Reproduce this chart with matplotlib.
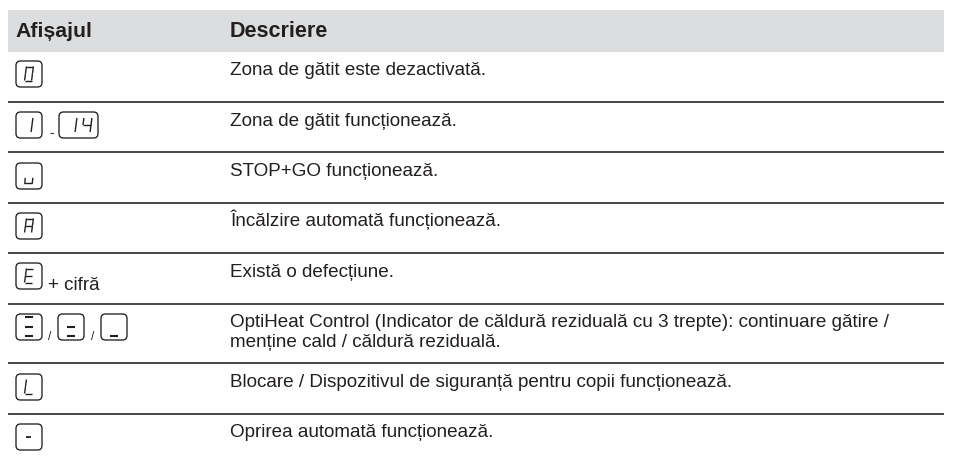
import matplotlib
matplotlib.use("Agg")
import matplotlib.pyplot as plt
from matplotlib.patches import FancyBboxPatch, Rectangle

headers = ["Afișajul", "Descriere"]
descriptions = [
    "Zona de gătit este dezactivată.",
    "Zona de gătit funcționează.",
    "STOP+GO funcționează.",
    "Încălzire automată funcționează.",
    "Există o defecțiune.",
    "OptiHeat Control (Indicator de căldură reziduală cu 3 trepte): continuare gătire /\nmenține cald / căldură reziduală.",
    "Blocare / Dispozitivul de siguranță pentru copii funcționează.",
    "Oprirea automată funcționează.",
]
row_keys = [
    [("0", 16, 26)],
    [("1", 16, 26), ("14", 59, 39)],
    [("u", 16, 26)],
    [("A", 16, 26)],
    [("E", 16, 26)],
    [("hi", 16, 26), ("mid", 58, 26), ("lo", 101, 26)],
    [("L", 16, 26)],
    [("-", 16, 26)],
]
key_tops = [61, 112, 163, 213, 263, 314, 374, 424]
rule_rows = [102, 152, 203, 253, 304, 363, 414]
text_rows = [75, 126, 176, 226, 277, 328, 387, 437]
separators = [(49, 137, "-", 10), (48, 290, "+ cifră", 13.5), (48, 340, "/", 8.5), (91, 340, "/", 8.5)]

SEG = {
    "a": [(0, 0), (1, 0)], "b": [(1, 0), (1, .5)], "c": [(1, .5), (1, 1)],
    "d": [(0, 1), (1, 1)], "e": [(0, .5), (0, 1)], "f": [(0, 0), (0, .5)], "g": [(0, .5), (1, .5)],
}
GLYPH = {"0": "abcdef", "1": "bc", "4": "fgbc", "A": "abcefg", "E": "afged", "L": "fed"}
DARK = "#231f20"
FS = 13.55

fig = plt.figure(figsize=(9.54, 4.59), dpi=100)
ax = fig.add_axes([0, 0, 1, 1])
ax.set_xlim(0, 954)
ax.set_ylim(459, 0)
ax.axis("off")

ax.add_patch(Rectangle((8, 10), 936, 42, fc="#dcddde", ec="none"))
ax.text(15.5, 37, headers[0], fontsize=15.3, fontweight="bold", family="Liberation Sans", va="baseline", color=DARK)
ax.text(230, 37, headers[1], fontsize=15.5, fontweight="bold", family="Liberation Sans", va="baseline", color=DARK)

for y in rule_rows:
    ax.plot([8, 944], [y, y], color="#262626", lw=1.2, solid_capstyle="butt")


def segments(cx, top, segs, w=6.0, h=14.0, lw=1.0, skew=0.13):
    for s in segs:
        (x0, y0), (x1, y1) = SEG[s]
        X = [cx - w / 2 + x0 * w + (0.5 - y0) * h * skew, cx - w / 2 + x1 * w + (0.5 - y1) * h * skew]
        Y = [top + y0 * h, top + y1 * h]
        ax.plot(X, Y, color=DARK, lw=lw, solid_capstyle="butt")


def draw_key(kind, x, top, w, h=26):
    ax.add_patch(FancyBboxPatch((x + 3.5, top + 3.5), w - 7, h - 7, boxstyle="round,pad=3.5,rounding_size=4.5",
                                fc="white", ec=DARK, lw=0.95))
    cx, cy = x + w / 2, top + h / 2
    if kind == "14":
        segments(x + 14, top + 6, GLYPH["1"])
        segments(x + 28, top + 6, GLYPH["4"], w=8)
    elif kind == "1":
        segments(cx, top + 6, GLYPH["1"])
    elif kind == "u":
        ax.plot([cx - 3.8, cx - 4.2, cx + 3.2, cx + 3.8], [top + 15.5, top + 20.5, top + 20.5, top + 15.5],
                color=DARK, lw=1.0)
    elif kind == "hi":
        segments(cx, top + 3, "agd", w=7.5, h=19, lw=1.5, skew=0)
    elif kind == "mid":
        segments(cx, top + 3, "gd", w=7.5, h=19, lw=1.5, skew=0)
    elif kind == "lo":
        segments(cx, top + 3, "d", w=7.5, h=19, lw=1.5, skew=0)
    elif kind == "-":
        ax.plot([cx - 2.5, cx + 2.5], [cy, cy], color=DARK, lw=1.3, solid_capstyle="butt")
    else:
        segments(cx, top + 5.5, GLYPH[kind], w=7)


for keys, top in zip(row_keys, key_tops):
    for kind, x, w in keys:
        draw_key(kind, x, top, w)

for txt, y in zip(descriptions, text_rows):
    lines = txt.split("\n")
    for i, line in enumerate(lines):
        base = y if len(lines) == 1 else y - 1 + i * 20
        ax.text(230, base, line, fontsize=FS, family="Liberation Sans", va="baseline", color=DARK)

for x, y, s, fs in separators:
    ax.text(x, y, s, fontsize=fs, family="Liberation Sans", va="baseline", color=DARK)

fig.savefig("out.png", dpi=100, facecolor="white")
